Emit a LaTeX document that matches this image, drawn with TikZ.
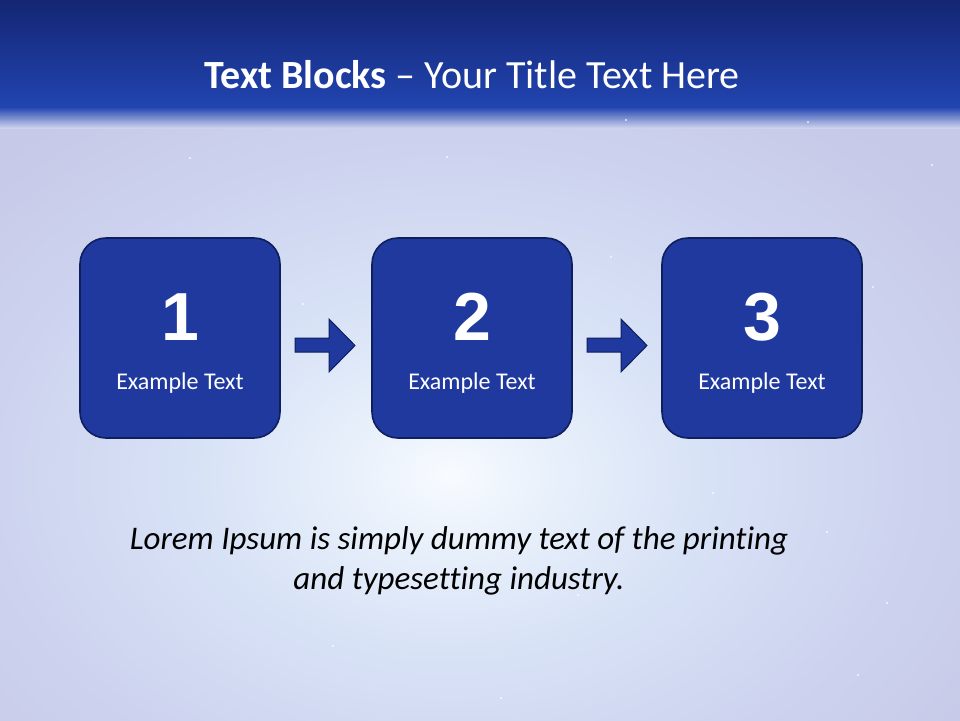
\documentclass[tikz,border=0pt]{standalone}
\usepackage{fontspec}
\setmainfont{Carlito}[Ligatures={TeX,NoCommon}]
\newfontfamily\numfont{Liberation Sans}
\definecolor{hdrTop}{HTML}{142673}
\definecolor{hdrBot}{HTML}{2144B0}
\definecolor{lav}{HTML}{C6C9E7}
\definecolor{boxFill}{HTML}{1F399E}
\definecolor{boxLine}{HTML}{0F1F5E}
\definecolor{g0}{HTML}{F8FBFF}
\definecolor{g1}{HTML}{E8F0FB}
\definecolor{g2}{HTML}{D8E2F6}
\definecolor{g3}{HTML}{CDD3EF}
\pgfdeclareradialshading{glow}{\pgfpoint{0bp}{0bp}}{color(0bp)=(g0); color(4bp)=(g1); color(10bp)=(g2); color(18bp)=(g3); color(25bp)=(lav); color(50bp)=(lav)}
\tikzset{
  stepbox/.style={draw=boxLine, line width=1.6pt, fill=boxFill, rounded corners=26pt},
  numtxt/.style={text=white, font=\numfont\bfseries\fontsize{68}{70}\selectfont, inner sep=0pt, anchor=base},
  labtxt/.style={text=white, font=\fontsize{24}{26}\selectfont, inner sep=0pt, anchor=base},
  arrowshape/.style={draw=boxLine, line width=1pt, fill=boxFill, line join=miter},
  star/.style={fill=white, opacity=0.8}
}
\begin{document}
\begin{tikzpicture}[x=1pt,y=-1pt]
\useasboundingbox (0,0) rectangle (960,720);
% background
\fill[lav] (0,0) rectangle (960,720);
\begin{scope}
  \clip (0,110) rectangle (960,720);
  \shade[shading=glow] (450,475) ellipse (640 and 450);
\end{scope}
\shade[top color=hdrTop, bottom color=hdrBot] (0,0) rectangle (960,107);
\shade[top color=hdrBot, bottom color=lav!60!g2] (0,107) rectangle (960,128);
% stars
\foreach \p in {(190,158),(447,157),(303,304),(626,120),(808,122),(932,165),(873,287),(611,257),(713,493),(827,532),(578,595),(333,646),(501,698),(858,675),(887,603)}
  \fill[star] \p circle (1.1);
% title
\node[text=white, font=\fontsize{40}{44}\selectfont, anchor=base, inner sep=0pt] (title) at (472,88) {\textbf{Text Blocks} – Your Title Text Here};
% boxes
\path[stepbox] (80,238) rectangle (280,438);
\path[stepbox] (372,238) rectangle (572,438);
\path[stepbox] (662,238) rectangle (862,438);
\node[inner sep=0pt, minimum size=200pt] (box1) at (180,338) {};
\node[inner sep=0pt, minimum size=200pt] (box2) at (472,338) {};
\node[inner sep=0pt, minimum size=200pt] (box3) at (762,338) {};
\node[numtxt] (n1) at (180,340) {1};
\node[numtxt] (n2) at (472,340) {2};
\node[numtxt] (n3) at (762,340) {3};
\node[labtxt] (l1) at (180,389) {Example Text};
\node[labtxt] (l2) at (472,389) {Example Text};
\node[labtxt] (l3) at (762,389) {Example Text};
% arrows
\draw[arrowshape] (295,338) -- (329,338) -- (329,319) -- (355,345.5) -- (329,372) -- (329,352) -- (295,352) -- cycle;
\draw[arrowshape] (587,338) -- (621,338) -- (621,319) -- (647,345.5) -- (621,372) -- (621,352) -- (587,352) -- cycle;
% body text
\node[font=\itshape\fontsize{33}{40}\selectfont, align=center, text=black, anchor=base, inner sep=0pt] (body) at (459,589) {Lorem Ipsum is simply dummy text of the printing\\and typesetting industry.};
\end{tikzpicture}
\end{document}
